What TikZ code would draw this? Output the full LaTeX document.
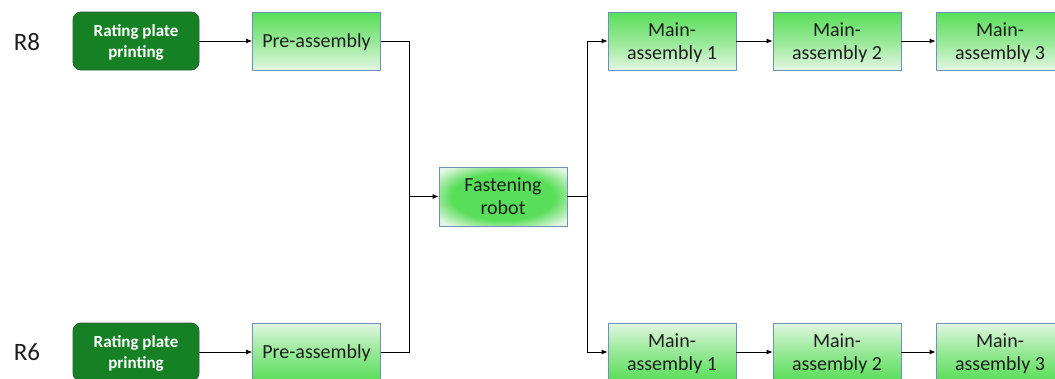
\documentclass[tikz,border=0pt]{standalone}
\usepackage{fontspec}
\setmainfont{Carlito}
\usetikzlibrary{arrows.meta}

\definecolor{plategreen}{HTML}{158024}
\definecolor{plateedge}{HTML}{2E5B3C}
\definecolor{boxgreen}{HTML}{58DE58}
\definecolor{boxlight}{HTML}{E2F6E2}
\definecolor{boxedge}{HTML}{6F8FBF}
\definecolor{inkgray}{HTML}{1E1E1E}

\pgfdeclareradialshading{robotglow}{\pgfpoint{0bp}{0bp}}{color(0bp)=(boxgreen); color(20bp)=(boxgreen); color(32bp)=(boxlight); color(50bp)=(boxlight)}

\tikzset{
	platebox/.style={draw=plateedge, line width=0.8pt, fill=plategreen, rounded corners=8pt, minimum width=126, minimum height=58, inner sep=0pt, align=center, text=white, text depth=0pt, font=\bfseries\fontsize{17}{21}\selectfont},
	stationbox/.style={draw=boxedge, line width=0.8pt, minimum width=128, minimum height=58, inner sep=0pt, align=center, text=inkgray, text depth=0pt, font=\fontsize{20}{23}\selectfont},
	toprow/.style={stationbox, top color=boxgreen, bottom color=boxlight, middle color=boxgreen!55!boxlight},
	botrow/.style={stationbox, top color=boxlight, bottom color=boxgreen, middle color=boxgreen!55!boxlight},
	lanelabel/.style={text=inkgray, font=\fontsize{25}{28}\selectfont},
	flow/.style={line width=0.8pt, -{Latex[length=6pt,width=5pt]}},
	wire/.style={line width=0.8pt}
}

\begin{document}
\begin{tikzpicture}[x=1pt, y=-1pt]
			%%%%% START %%%%%
			
			\useasboundingbox[fill=white] (0, 0) rectangle (1055, 378);
			\clip (0, 0) rectangle (1055, 378);
			
			% lane R8
			\node[lanelabel] (r8) at (27, 42) {R8};
			\node[platebox] (plate8) at (136, 41) {Rating plate\\printing};
			\node[toprow] (pre8) at (316.5, 41) {Pre-assembly};
			\node[toprow] (main8a) at (672, 41) {Main-\\assembly 1};
			\node[toprow] (main8b) at (837, 41) {Main-\\assembly 2};
			\node[toprow] (main8c) at (1000, 41) {Main-\\assembly 3};
			
			% lane R6
			\node[lanelabel] (r6) at (27, 352) {R6};
			\node[platebox] (plate6) at (136, 352) {Rating plate\\printing};
			\node[botrow] (pre6) at (316.5, 352) {Pre-assembly};
			\node[botrow] (main6a) at (672, 352) {Main-\\assembly 1};
			\node[botrow] (main6b) at (837, 352) {Main-\\assembly 2};
			\node[botrow] (main6c) at (1000, 352) {Main-\\assembly 3};
			
			% shared station
			\node[stationbox, shading=robotglow, minimum height=59] (robot) at (503, 196.5) {Fastening\\robot};
			
			\coordinate (merge) at (409, 196.5);
			\coordinate (split) at (587, 196.5);
			
			\draw[flow] (plate8) -- (pre8);
			\draw[flow] (plate6) -- (pre6);
			
			\draw[wire] (pre8.east) -| (merge);
			\draw[wire] (pre6.east) -| (merge);
			\draw[flow] (merge) -- (robot);
			
			\draw[wire] (robot) -- (split);
			\draw[flow] (split) |- (main8a);
			\draw[flow] (split) |- (main6a);
			
			\draw[flow] (main8a) -- (main8b);
			\draw[flow] (main8b) -- (main8c);
			\draw[flow] (main6a) -- (main6b);
			\draw[flow] (main6b) -- (main6c);
			
			%%%%% END %%%%%
\end{tikzpicture}
\end{document}
